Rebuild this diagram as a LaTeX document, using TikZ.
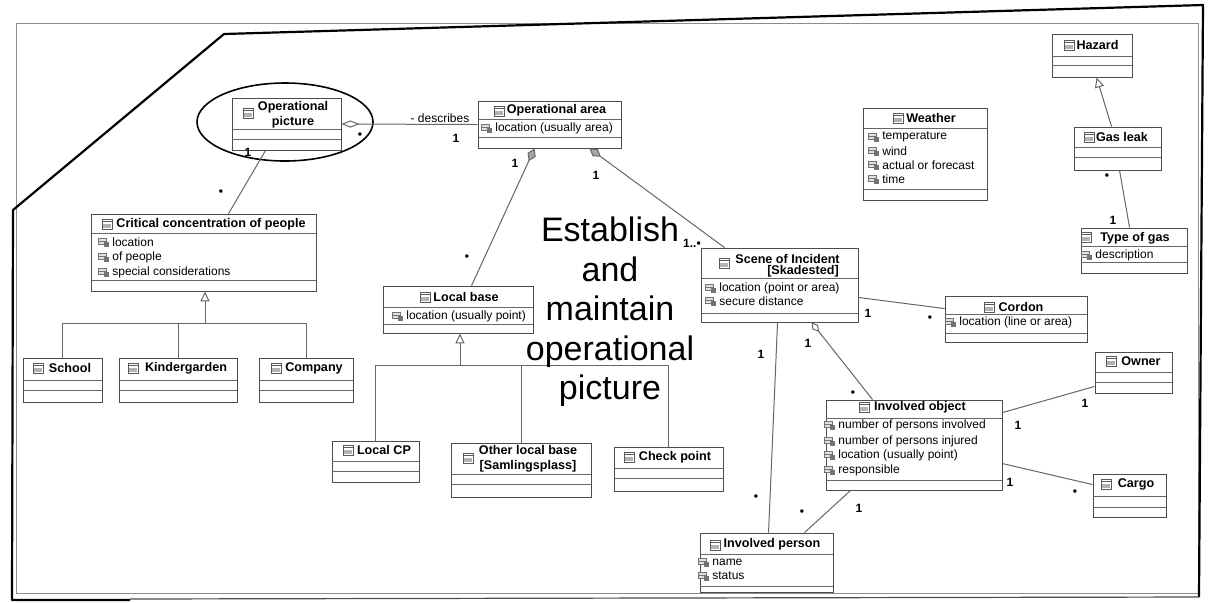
\documentclass[tikz,border=0pt]{standalone}
\usepackage{fontspec}
\setmainfont{Liberation Sans}
\usetikzlibrary{arrows.meta,fit,calc}

\tikzset{
  box/.style={draw=black!70, line width=0.45pt, inner sep=0pt},
  sep/.style={draw=black!60, line width=0.45pt},
  ttl/.style={font=\bfseries\fontsize{6.3}{7.4}\selectfont, inner sep=0pt, align=center},
  att/.style={font=\fontsize{6}{7}\selectfont, inner sep=0pt, anchor=west},
  mul/.style={font=\bfseries\fontsize{6}{7}\selectfont, inner sep=0pt},
  conn/.style={draw=black!60, line width=0.5pt},
  gen/.style={conn, -{Triangle[open, length=5pt, width=4.6pt]}},
  comp/.style={conn, {Diamond[length=7pt, width=4.5pt, color=black!60, fill=black!35]}-},
  aggr/.style={conn, {Diamond[open, length=6pt, width=3.6pt]}-},
  clsico/.pic={
    \draw[black!65, line width=0.3pt, fill=white] (-5,-5) rectangle (5,5);
    \fill[black!30] (-4.3,0) rectangle (4.3,4.3);
    \draw[black!65, line width=0.3pt] (-5,-2.5) -- (5,-2.5);
  },
  attico/.pic={
    \draw[black!55, line width=0.3pt, fill=black!12] (-6,-3.5) rectangle (2,2);
    \fill[black!55] (-0.5,0) rectangle (5,5);
    \draw[black!55, line width=0.3pt] (-6,-1) -- (2,-1);
  },
}

% class frame with its compartment separators
\newcommand\umlbox[6]{%
  \node[box, fit={(#2,#3) (#4,#5)}] (#1) {};
  \foreach \s in {#6} {\draw[sep] (#2,\s) -- (#4,\s);}%
}
% class name with its icon
\newcommand\clsname[6]{%
  \pic at (#2,#3) {clsico};
  \node[ttl] (#1) at (#4,#5) {#6};%
}
% attribute line with its icon
\newcommand\attrib[4]{%
  \pic at ($(#2,#3)+(-8,0)$) {attico};
  \node[att] (#1) at (#2,#3) {#4};%
}

\begin{document}
\begin{tikzpicture}[x=0.5pt,y=-0.5pt]
\useasboundingbox (0,0) rectangle (1211,602);
\fill[white] (0,0) rectangle (1211,602);

% outer frames
\draw[black!45, line width=0.4pt] (16,23) rectangle (1198,593);
\draw[black, line width=1.1pt, line join=round] (130,600) -- (12,600) -- (13,210) -- (224,34) -- (1203,5) -- (1199,597);
\draw[black!70, line width=0.6pt] (130,599) -- (1199,597);

% classes
\umlbox{op}{232}{98}{341}{150}{129,139}
\clsname{op-t}{248}{113}{293}{114.5}{Operational\\picture}

\umlbox{oa}{478}{101}{621}{148}{119,137}
\clsname{oa-t}{499}{111}{556.5}{110}{Operational area}
\attrib{oa-a1}{495}{128}{location (usually area)}

\umlbox{weather}{863}{108}{987}{200}{128,189}
\clsname{weather-t}{898}{118}{931}{118}{Weather}
\attrib{weather-a1}{882}{137}{temperature}
\attrib{weather-a2}{882}{151}{wind}
\attrib{weather-a3}{882}{165}{actual or forecast}
\attrib{weather-a4}{882}{179}{time}

\umlbox{hazard}{1052}{34}{1132}{77}{56,65}
\clsname{hazard-t}{1069}{45}{1097.5}{45}{Hazard}

\umlbox{gasleak}{1074}{127}{1161}{170}{147,157}
\clsname{gasleak-t}{1089}{137}{1122}{137}{Gas leak}

\umlbox{gastype}{1081}{228}{1187}{273}{246,262}
\clsname{gastype-t}{1086}{237}{1135}{238}{Type of gas}
\attrib{gastype-a1}{1095}{255}{description}

\umlbox{crit}{91}{214}{316}{291}{233,280}
\clsname{crit-t}{107}{224}{211}{224}{Critical concentration of people}
\attrib{crit-a1}{112}{242}{location}
\attrib{crit-a2}{112}{257}{of people}
\attrib{crit-a3}{112}{272}{special considerations}

\umlbox{school}{23}{358}{102}{402}{380,390}
\clsname{school-t}{38}{368}{70}{368}{School}
\umlbox{kinder}{119}{358}{237}{402}{380,390}
\clsname{kinder-t}{133}{368}{186}{368}{Kindergarden}
\umlbox{company}{259}{358}{353}{402}{380,390}
\clsname{company-t}{276}{368}{314}{368}{Company}

\umlbox{lbase}{383}{286}{533}{333}{307,324}
\clsname{lbase-t}{425}{297}{466}{297}{Local base}
\attrib{lbase-a1}{406}{316}{location (usually point)}

\umlbox{lcp}{332}{441}{419}{482}{461,471}
\clsname{lcp-t}{348}{450}{384}{450}{Local CP}

\umlbox{olb}{451}{443}{591}{497}{474,484}
\clsname{olb-t}{468}{458}{528}{458.5}{Other local base\\{}[Samlingsplass]}

\umlbox{chk}{614}{447}{723}{491}{468,478}
\clsname{chk-t}{629}{457}{675}{457}{Check point}

\umlbox{scene}{701}{248}{858}{322}{278,313}
\clsname{scene-t}{724}{263}{787.5}{259}{Scene of Incident}
\node[ttl] (scene-t2) at (803,271) {[Skadested]};
\attrib{scene-a1}{719}{288}{location (point or area)}
\attrib{scene-a2}{719}{301}{secure distance}

\umlbox{cordon}{945}{296}{1087}{342}{314,333}
\clsname{cordon-t}{989}{307}{1021}{307}{Cordon}
\attrib{cordon-a1}{959}{322}{location (line or area)}

\umlbox{owner}{1095}{352}{1172}{393}{372,382}
\clsname{owner-t}{1111}{361}{1141}{361}{Owner}

\umlbox{iobj}{826}{400}{1002}{490}{418,480}
\clsname{iobj-t}{864}{407}{920}{407}{Involved object}
\attrib{iobj-a1}{838}{425}{number of persons involved}
\attrib{iobj-a2}{838}{441}{number of persons injured}
\attrib{iobj-a3}{838}{455}{location (usually point)}
\attrib{iobj-a4}{838}{470}{responsible}

\umlbox{cargo}{1093}{474}{1166}{517}{496,507}
\clsname{cargo-t}{1106}{484}{1136}{484}{Cargo}

\umlbox{iperson}{700}{533}{833}{592}{554,586}
\clsname{iperson-t}{715}{545}{772}{544}{Involved person}
\attrib{iperson-a1}{712}{562}{name}
\attrib{iperson-a2}{712}{576}{status}

% highlight around the operational picture
\draw[black, line width=0.8pt] (285,122) ellipse [x radius=88, y radius=39];

% associations
\draw[conn, {Diamond[open, length=9pt, width=3.6pt]}-] (op.east) -- (oa.west);
\node[font=\fontsize{6}{7}\selectfont, inner sep=0pt] (desc) at (440,118) {- describes};
\node[mul] (m-oa) at (456,138) {1};
\node[mul] (m-op) at (360,136) {•};

\draw[conn] ($(op.south west)+(34,0)$) -- ($(crit.north west)+(138,0)$);
\node[mul] (m-op2) at (248,152) {1};
\node[mul] (m-crit) at (221,193) {•};

\draw[comp] ($(oa.south west)+(57,0)$) -- ($(lbase.north west)+(89,0)$);
\node[mul] (m-oa2) at (515,163) {1};
\node[mul] (m-lb) at (467,258) {•};

\draw[comp] ($(oa.south west)+(112,0)$) -- ($(scene.north west)+(24,0)$);
\node[mul] (m-oa3) at (596,175) {1};
\node[mul] (m-sc) at (692,243) {1..•};

\draw[conn] ($(scene.south east)+(0,-25)$) -- ($(cordon.north west)+(0,13)$);
\node[mul] (m-sc2) at (868,313) {1};
\node[mul] (m-co) at (930,319) {•};

\draw[aggr] ($(scene.south west)+(111,0)$) -- ($(iobj.north west)+(47,0)$);
\node[mul] (m-sc3) at (808,343) {1};
\node[mul] (m-io) at (853,394) {•};

\draw[conn] ($(scene.south west)+(77,0)$) -- ($(iperson.north west)+(69,0)$);
\node[mul] (m-sc4) at (761,354) {1};
\node[mul] (m-ip) at (756,498) {•};

\draw[conn] ($(iobj.south west)+(25,0)$) -- ($(iperson.north west)+(105,0)$);
\node[mul] (m-io2) at (859,508) {1};
\node[mul] (m-ip2) at (802,513) {•};

\draw[conn] ($(iobj.north east)+(0,13)$) -- ($(owner.south west)+(0,-7)$);
\node[mul] (m-ow) at (1085,403) {1};
\node[mul] (m-io3) at (1018,425) {1};

\draw[conn] ($(iobj.north east)+(0,64)$) -- ($(cargo.north west)+(0,11)$);
\node[mul] (m-io4) at (1010,482) {1};
\node[mul] (m-ca) at (1075,493) {•};

\draw[conn] ($(gasleak.south west)+(46,0)$) -- ($(gastype.north west)+(49,0)$);
\node[mul] (m-gl) at (1107,177) {•};
\node[mul] (m-gt) at (1113,220) {1};

% generalisations
\draw[gen] ($(gasleak.north west)+(38,0)$) -- ($(hazard.south west)+(45,0)$);

\coordinate (cbar) at ($(crit.south)+(1.5,32)$);
\draw[conn] (school.north) |- (company.north |- cbar) -- (company.north);
\draw[conn] (kinder.north) -- (kinder.north |- cbar);
\draw[gen] (cbar) -- (cbar |- crit.south);

\coordinate (lbar) at ($(lbase.south)+(2,32)$);
\draw[conn] (lcp.north) |- (chk.north |- lbar) -- (chk.north);
\draw[conn] (olb.north) -- (olb.north |- lbar);
\draw[gen] (lbar) -- (lbar |- lbase.south);

% caption
\node[font=\fontsize{17}{19.75}\selectfont, align=center, inner sep=0pt] (caption) at (610,312)
  {Establish\\and\\maintain\\operational\\picture};
\end{tikzpicture}
\end{document}
